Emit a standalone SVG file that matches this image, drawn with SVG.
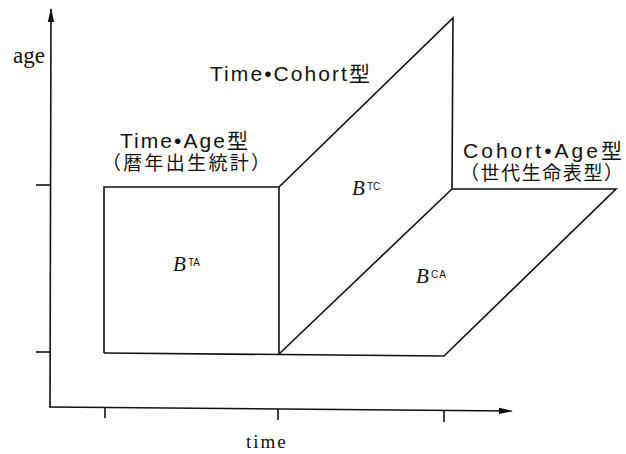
<svg xmlns="http://www.w3.org/2000/svg" width="626" height="454" viewBox="0 0 626 454">
<defs>
<style>
.ln{fill:none;stroke:#111;stroke-width:1.6;stroke-linejoin:miter}
.lab{font-family:"Liberation Sans","Noto Sans CJK JP",sans-serif;font-size:21px;fill:#111}
.cjk{font-family:"Liberation Sans","Noto Sans CJK JP",sans-serif;font-size:19px;fill:#111}
.ser{font-family:"Liberation Serif","DejaVu Serif",serif;fill:#111}
.b{font-family:"Liberation Serif",serif;font-style:italic;font-size:21px;fill:#111}
.sup{font-family:"Liberation Sans",sans-serif;font-size:10px;fill:#111}
</style>
<marker id="ah" markerWidth="14" markerHeight="8" refX="13" refY="4" orient="auto" markerUnits="userSpaceOnUse">
<path d="M0,0.8 L14,4 L0,7.2 Z" fill="#111"/>
</marker>
</defs>
<rect width="626" height="454" fill="#fff"/>
<g id="axes" class="connectors">
<line class="ln" x1="50" y1="407" x2="51" y2="9" marker-end="url(#ah)"/>
<line class="ln" x1="49" y1="407" x2="512" y2="411" marker-end="url(#ah)"/>
<line class="ln" x1="36" y1="185" x2="50" y2="185"/>
<line class="ln" x1="36" y1="352" x2="50" y2="352"/>
<line class="ln" x1="105" y1="408" x2="105" y2="418"/>
<line class="ln" x1="278" y1="409" x2="278" y2="420"/>
<line class="ln" x1="444" y1="410" x2="444" y2="422"/>
</g>
<g id="plane-TA">
<path class="ln" d="M104,353 L104,187 L279,187 L279,354"/>
<text class="b" x="173" y="271">B</text><text class="sup" x="188" y="266">TA</text>
</g>
<g id="plane-TC">
<path class="ln" d="M279,187 L453,18 L452,189"/>
<text class="b" x="352" y="195">B</text><text class="sup" x="367" y="190">TC</text>
</g>
<g id="plane-CA">
<path class="ln" d="M104,353 L444,356 L616,189 L452,189 L279,354"/>
<text class="b" x="416" y="283">B</text><text class="sup" x="431" y="278" letter-spacing="1">CA</text>
</g>
<g id="labels">
<text class="ser" x="13" y="63" font-size="23">age</text>
<text class="ser" x="246" y="448" font-size="19" letter-spacing="2">time</text>
<text class="lab" x="210" y="81" textLength="160" lengthAdjust="spacing">Time•Cohort型</text>
<text class="lab" x="120" y="148" textLength="128" lengthAdjust="spacing">Time•Age型</text>
<text class="cjk" x="102" y="170" textLength="168" lengthAdjust="spacing">（暦年出生統計）</text>
<text class="lab" x="463" y="158" textLength="159" lengthAdjust="spacing">Cohort•Age型</text>
<text class="cjk" x="460" y="180" textLength="163" lengthAdjust="spacing">（世代生命表型）</text>
</g>
</svg>
